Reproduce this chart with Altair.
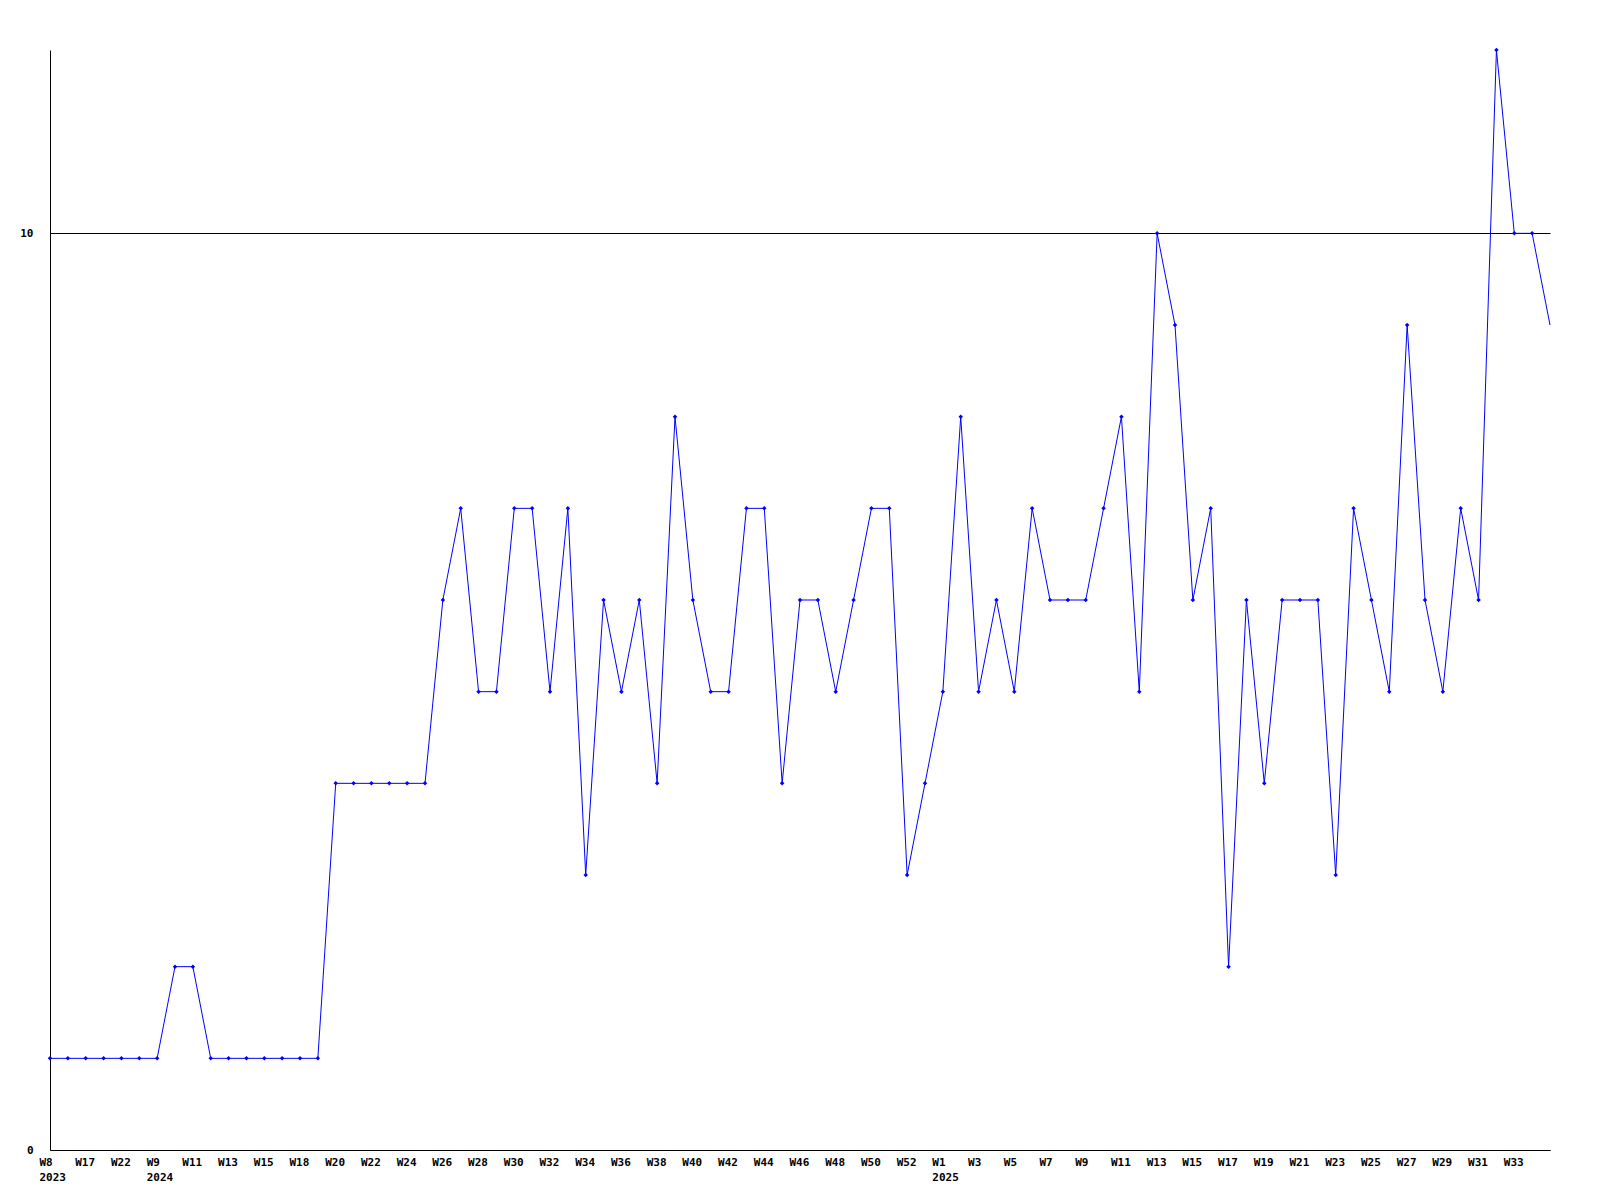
import altair as alt
import pandas as pd

weeks = ["W8", "W13", "W17", "W19", "W22", "W40",
         "W9", "W10", "W11", "W12", "W13", "W14", "W15", "W17",
         "W18", "W19", "W20", "W21", "W22", "W23", "W24", "W25", "W26", "W27",
         "W28", "W29", "W30", "W31", "W32", "W33", "W34", "W35", "W36", "W37",
         "W38", "W39", "W40", "W41", "W42", "W43", "W44", "W45", "W46", "W47",
         "W48", "W49", "W50", "W51", "W52", "W53",
         "W1", "W2", "W3", "W4", "W5", "W6", "W7", "W8", "W9", "W10",
         "W11", "W12", "W13", "W14", "W15", "W16", "W17", "W18", "W19", "W20",
         "W21", "W22", "W23", "W24", "W25", "W26", "W27", "W28", "W29", "W30",
         "W31", "W32", "W33", "W34", "W35"]
years = [2023] * 6 + [2024] * 44 + [2025] * 35
values = [1, 1, 1, 1, 1, 1, 1, 2, 2, 1,
          1, 1, 1, 1, 1, 1, 4, 4, 4, 4,
          4, 4, 6, 7, 5, 5, 7, 7, 5, 7,
          3, 6, 5, 6, 4, 8, 6, 5, 5, 7,
          7, 4, 6, 6, 5, 6, 7, 7, 3, 4,
          5, 8, 5, 6, 5, 7, 6, 6, 6, 7,
          8, 5, 10, 9, 6, 7, 2, 6, 4, 6,
          6, 6, 3, 7, 6, 5, 9, 6, 5, 7,
          6, 12, 10, 10, 9]

keys = [f"{y}|{w}" for w, y in zip(weeks, years)]
first_keys = []
seen = set()
for k, y in zip(keys, years):
    if y not in seen:
        seen.add(y)
        first_keys.append(k)

df = pd.DataFrame({"key": keys, "value": values, "idx": list(range(len(keys)))})
label_keys = keys[:-1][::2]

font = "DejaVu Sans Mono"
first_list = "[" + ",".join(f"'{k}'" for k in first_keys) + "]"
label_expr = (f"indexof({first_list}, datum.value) >= 0 ? "
              "[split(datum.value,'|')[1], split(datum.value,'|')[0]] : "
              "split(datum.value,'|')[1]")

x = alt.X("key:N", sort=keys, title=None,
          scale=alt.Scale(type="point", padding=0),
          axis=alt.Axis(values=label_keys, labelExpr=label_expr, labelAngle=0,
                        ticks=False, domainColor="black", labelColor="black",
                        labelFont=font, labelFontWeight="bold", labelFontSize=11,
                        labelPadding=6, labelLineHeight=15, labelBaseline="top",
                        labelAlign="left", labelOffset=-11,
                        labelOverlap=False, grid=False))
y = alt.Y("value:Q", title=None,
          scale=alt.Scale(domain=[0, 12], nice=False),
          axis=alt.Axis(values=[0, 10], ticks=False, domainColor="black",
                        grid=True, gridColor="black", gridOpacity=1, gridWidth=1,
                        labelColor="black", labelFont=font, labelFontWeight="bold",
                        labelFontSize=11, labelPadding=17))

line = alt.Chart(df).mark_line(color="#0000ff", strokeWidth=1).encode(x=x, y=y)
pts = alt.Chart(df).transform_filter(alt.datum.idx < len(keys) - 1).mark_point(
    shape="diamond", filled=True, color="#0000ff", size=20, opacity=1
).encode(x=x, y=y)

chart = (line + pts).properties(
    width=1500, height=1100,
    padding={"left": 42, "top": 42, "right": 30, "bottom": 40},
    autosize=alt.AutoSizeParams(type="none"),
    background="white",
).configure_view(stroke=None)

chart.save("out.html", embed_options={"renderer": "svg", "actions": False})
